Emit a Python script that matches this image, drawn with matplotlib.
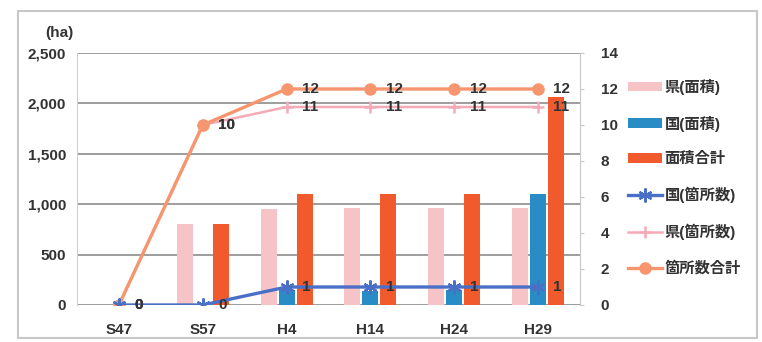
import matplotlib
matplotlib.use("Agg")
import matplotlib.pyplot as plt
import numpy as np
from matplotlib.lines import Line2D
from matplotlib.patches import Patch, Rectangle

plt.rcParams['font.family'] = ['Liberation Sans', 'Noto Sans CJK JP', 'DejaVu Sans']

categories = ['S47', 'S57', 'H4', 'H14', 'H24', 'H29']
pref_area = [0, 800, 950, 960, 960, 965]        # 県(面積)
nat_area = [0, 0, 150, 140, 150, 1100]          # 国(面積)
total_area = [0, 800, 1100, 1100, 1100, 2060]   # 面積合計
nat_count = [0, 0, 1, 1, 1, 1]                  # 国(箇所数)
pref_count = [0, 10, 11, 11, 11, 11]            # 県(箇所数)
total_count = [0, 10, 12, 12, 12, 12]           # 箇所数合計
left_ticks = [0, 500, 1000, 1500, 2000, 2500]
right_ticks = [0, 2, 4, 6, 8, 10, 12, 14]

c_pref = '#F6C4C6'
c_nat = '#2A8CC4'
c_tot = '#F05A2C'
c_lnat = '#4A6FC6'
c_lpref = '#F5AAB8'
c_ltot = '#F7956E'
txt = '#333333'

W, H = 762, 342
fig = plt.figure(figsize=(W / 100, H / 100), dpi=100)
fig.patch.set_facecolor('white')

# outer frame
fig.add_artist(Rectangle((18 / W, 1 - 338 / H), (757 - 18) / W, (338 - 11) / H,
                         transform=fig.transFigure, fill=False,
                         edgecolor='#c8c8c8', lw=1.5))

ax = fig.add_axes([77 / W, 1 - 305 / H, (580 - 77) / W, (305 - 53) / H])
x = np.arange(len(categories))
bw = 0.19
off = 0.215
ax.bar(x - off, pref_area, bw, color=c_pref, zorder=2)
ax.bar(x, nat_area, bw, color=c_nat, zorder=2)
ax.bar(x + off, total_area, bw, color=c_tot, zorder=2)

ax.set_xlim(-0.5, len(categories) - 0.5)
ax.set_ylim(0, 2500)
ax.set_yticks(left_ticks)
ax.set_yticklabels([f'{v:,}' for v in left_ticks])
ax.set_xticks(x)
ax.set_xticklabels(categories)
ax.grid(axis='y', color='#959595', lw=1.3, zorder=0)
ax.set_axisbelow(True)
for s in ['top', 'right', 'bottom']:
    ax.spines[s].set_visible(False)
ax.spines['left'].set_color('#d0d0d0')
ax.tick_params(axis='y', length=0, pad=8, labelsize=11, labelcolor=txt)
ax.tick_params(axis='x', length=0, pad=13, labelsize=11, labelcolor=txt)
for lab in ax.get_xticklabels() + ax.get_yticklabels():
    lab.set_fontweight('bold')

ax2 = ax.twinx()
ax2.set_ylim(0, 14)
ax2.set_yticks(right_ticks)
for s in ['top', 'left', 'bottom']:
    ax2.spines[s].set_visible(False)
ax2.spines['right'].set_color('#c8c8c8')
ax2.tick_params(axis='y', length=3, color='#c8c8c8', pad=12, labelsize=11, labelcolor=txt)
for lab in ax2.get_yticklabels():
    lab.set_fontweight('bold')

ax2.plot(x, pref_count, color=c_lpref, lw=1.8, marker='+', ms=8, mew=1.8, zorder=3)
ax2.plot(x, total_count, color=c_ltot, lw=2.4, marker='o', ms=8, zorder=4)
ax2.plot(x, nat_count, color=c_lnat, lw=2.4, marker=(6, 2, 0), ms=10, mew=1.6, zorder=5)

for series in (total_count, pref_count, nat_count):
    for xi, v in zip(x, series):
        ax2.annotate(str(v), (xi, v), xytext=(11, 0), textcoords='offset points',
                     ha='left', va='center', fontsize=11, fontweight='bold',
                     color=txt, zorder=6)

fig.text(59 / W, 1 - 33 / H, '(ha)', ha='center', va='center', fontsize=11,
         fontweight='bold', color=txt)

handles = [
    Patch(facecolor=c_pref),
    Patch(facecolor=c_nat),
    Patch(facecolor=c_tot),
    Line2D([], [], color=c_lnat, lw=2.4, marker=(6, 2, 0), ms=10, mew=1.6),
    Line2D([], [], color=c_lpref, lw=1.8, marker='+', ms=8, mew=1.8),
    Line2D([], [], color=c_ltot, lw=2.4, marker='o', ms=8),
]
labels = ['県(面積)', '国(面積)', '面積合計', '国(箇所数)', '県(箇所数)', '箇所数合計']
leg = fig.legend(handles, labels, loc='upper left', bbox_to_anchor=(628 / W, 1 - 79 / H),
                 frameon=False, borderpad=0, borderaxespad=0, handlelength=2.2,
                 handleheight=0.6, handletextpad=0.2, labelspacing=1.35,
                 prop={'size': 11, 'weight': 'bold'})
for t in leg.get_texts():
    t.set_color(txt)

fig.savefig('out.png', dpi=100)
